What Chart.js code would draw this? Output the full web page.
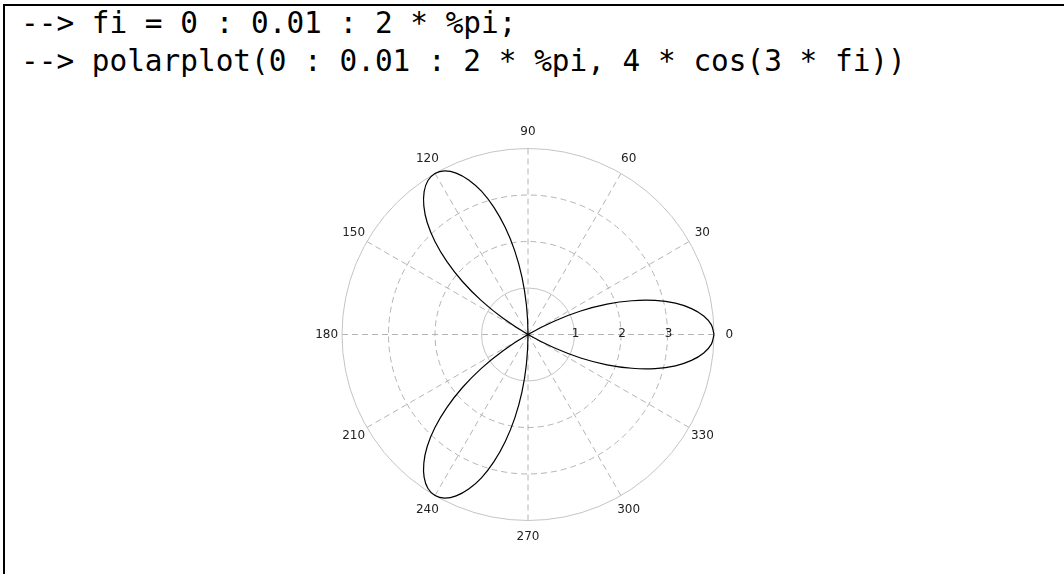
<!DOCTYPE html>
<html>
<head>
<meta charset="utf-8">
<script src="https://cdn.jsdelivr.net/npm/chart.js@4.4.1/dist/chart.umd.min.js"></script>
<style>
  html, body { margin: 0; padding: 0; background: #fff; }
  #page { position: relative; width: 1064px; height: 574px; overflow: hidden; }
  #frame { position: absolute; left: 3px; top: 4px; right: -10px; bottom: -10px;
           border-top: 2px solid #000; border-left: 2px solid #000; }
  #console { position: absolute; left: 21px; top: 4px; color: #000;
             font-family: "DejaVu Sans Mono", monospace; font-size: 29.4px;
             line-height: 38px; white-space: pre; }
  #mycanvas { position: absolute; left: 0; top: 0; }
</style>
</head>
<body>
<div id="page">
  <div id="frame"></div>
  <div id="console">--&gt; fi = 0 : 0.01 : 2 * %pi;
--&gt; polarplot(0 : 0.01 : 2 * %pi, 4 * cos(3 * fi))</div>
  <canvas id="mycanvas" width="1064" height="574"></canvas>
</div>
<script>
// curve samples: angle (degrees) and radius
var thetaDeg = [0, 3, 6, 9, 12, 15, 18, 21, 24, 27, 30, 33, 36, 39, 42, 45, 48, 51, 54, 57,
  60, 63, 66, 69, 72, 75, 78, 81, 84, 87, 90, 93, 96, 99, 102, 105, 108, 111, 114, 117,
  120, 123, 126, 129, 132, 135, 138, 141, 144, 147, 150, 153, 156, 159, 162, 165, 168, 171, 174, 177, 180];
var radius = [4.00, 3.95, 3.80, 3.56, 3.24, 2.83, 2.35, 1.82, 1.24, 0.63, 0.00, -0.63, -1.24, -1.82, -2.35, -2.83, -3.24, -3.56, -3.80, -3.95,
  -4.00, -3.95, -3.80, -3.56, -3.24, -2.83, -2.35, -1.82, -1.24, -0.63, 0.00, 0.63, 1.24, 1.82, 2.35, 2.83, 3.24, 3.56, 3.80, 3.95,
  4.00, 3.95, 3.80, 3.56, 3.24, 2.83, 2.35, 1.82, 1.24, 0.63, 0.00, -0.63, -1.24, -1.82, -2.35, -2.83, -3.24, -3.56, -3.80, -3.95, -4.00];

// grid
var ringRadii = [1, 2, 3, 4];
var ringDashed = [false, true, true, false];
var spokeAngles = [0, 30, 60, 90, 120, 150, 180, 210, 240, 270, 300, 330];
var angleLabels = ['0', '30', '60', '90', '120', '150', '180', '210', '240', '270', '300', '330'];
var radialTicks = [1, 2, 3];
var radialLabels = ['1', '2', '3'];

var rad = Math.PI / 180;
var points = [];
for (var i in thetaDeg) {
  points.push({
    x: radius[i] * Math.cos(thetaDeg[i] * rad),
    y: radius[i] * Math.sin(thetaDeg[i] * rad)
  });
}

var polarGrid = {
  id: 'polarGrid',
  beforeDatasetsDraw: function(chart) {
    var c = chart.ctx, xs = chart.scales.x, ys = chart.scales.y;
    var cx = xs.getPixelForValue(0), cy = ys.getPixelForValue(0);
    var outer = ringRadii[ringRadii.length - 1];
    c.save();
    c.lineWidth = 1;

    // dashed spokes
    c.strokeStyle = '#b4b4b4';
    c.setLineDash([6, 4]);
    for (var i in spokeAngles) {
      var a = spokeAngles[i] * rad;
      c.beginPath();
      c.moveTo(cx, cy);
      c.lineTo(xs.getPixelForValue(outer * Math.cos(a)), ys.getPixelForValue(outer * Math.sin(a)));
      c.stroke();
    }

    // rings
    for (var j in ringRadii) {
      var r = xs.getPixelForValue(ringRadii[j]) - cx;
      c.setLineDash(ringDashed[j] ? [6, 4] : []);
      c.strokeStyle = ringDashed[j] ? '#b4b4b4' : '#c4c4c4';
      c.beginPath();
      c.arc(cx, cy, r, 0, 2 * Math.PI);
      c.stroke();
    }

    // centre mark
    c.setLineDash([]);
    c.fillStyle = '#b0b0b0';
    c.beginPath();
    c.arc(cx, cy, 2.5, 0, 2 * Math.PI);
    c.fill();
    c.restore();
  },
  afterDraw: function(chart) {
    var c = chart.ctx, xs = chart.scales.x, ys = chart.scales.y;
    c.save();
    c.font = '12px "DejaVu Sans"';
    c.fillStyle = '#222';
    c.textAlign = 'center';
    c.textBaseline = 'middle';
    for (var i in spokeAngles) {
      var a = spokeAngles[i] * rad;
      c.fillText(angleLabels[i],
        xs.getPixelForValue(4.33 * Math.cos(a)),
        ys.getPixelForValue(4.35 * Math.sin(a)));
    }
    for (var k in radialTicks) {
      c.fillText(radialLabels[k], xs.getPixelForValue(radialTicks[k]) + 1, ys.getPixelForValue(0) - 1);
    }
    c.restore();
  }
};

var ctx = document.getElementById('mycanvas');

var PolarGraph = new Chart(ctx, {
  type: 'scatter',
  data: {
    datasets: [{
      label: '4*cos(3*fi)',
      data: points,
      showLine: true,
      fill: false,
      borderColor: '#000',
      borderWidth: 1.2,
      pointRadius: 0,
      tension: 0.3,
      clip: false
    }]
  },
  options: {
    responsive: false,
    animation: false,
    events: [],
    layout: { padding: { left: 342, right: 350, top: 148.5, bottom: 53.5 } },
    plugins: { legend: { display: false }, tooltip: { enabled: false } },
    scales: {
      x: { type: 'linear', min: -4, max: 4, display: false },
      y: { type: 'linear', min: -4, max: 4, display: false }
    }
  },
  plugins: [polarGrid]
});
</script>
</body>
</html>
